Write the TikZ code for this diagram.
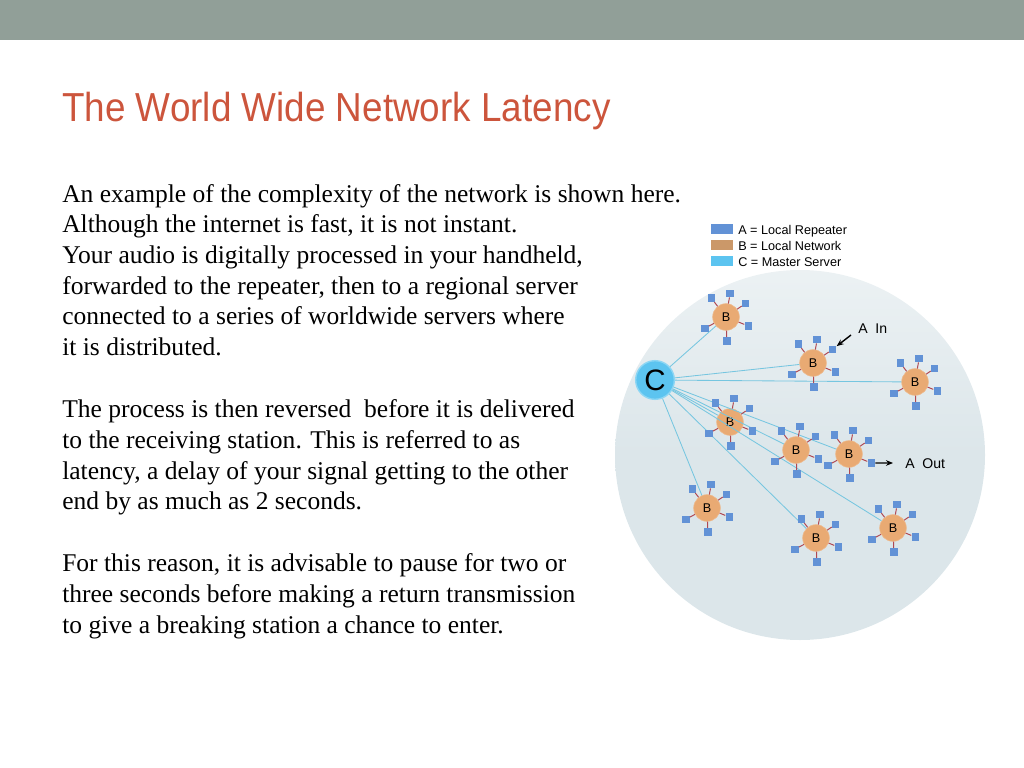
\documentclass[tikz,border=0pt]{standalone}
\usepackage{fontspec}
\setmainfont{Liberation Serif}
\newfontfamily\titlefont[FakeStretch=0.91]{Liberation Sans}
\newfontfamily\labelfont{Liberation Sans}
\usetikzlibrary{arrows.meta}
\usetikzlibrary{calc}

\definecolor{barGray}{RGB}{145,159,152}
\definecolor{titleRed}{RGB}{204,85,60}
\definecolor{discBlue}{RGB}{220,230,234}
\definecolor{repBlue}{RGB}{98,146,214}
\definecolor{netTan}{RGB}{233,170,115}
\definecolor{keyTan}{RGB}{203,152,105}
\definecolor{srvCyan}{RGB}{92,196,240}
\definecolor{linkCyan}{RGB}{118,198,224}
\definecolor{spokeRed}{RGB}{176,72,82}

\begin{document}
\begin{tikzpicture}[x=0.025cm,y=-0.025cm,
    body/.style={anchor=north west,inner sep=0pt,align=left,font=\fontsize{18.15}{21.8}\selectfont},
    key/.style={anchor=base west,inner sep=0pt,font=\labelfont\fontsize{9}{10}\selectfont},
    keybox/.style={rectangle,inner sep=0pt,minimum width=15pt,minimum height=7pt},
    server/.style={circle,fill=srvCyan,draw=srvCyan!70!white,line width=1pt,inner sep=0pt,minimum size=27.5pt,font=\labelfont\fontsize{21}{21}\selectfont},
    net/.style={circle,fill=netTan,draw=netTan!80!white,inner sep=0pt,minimum size=19pt,font=\labelfont\fontsize{9}{9}\selectfont},
    rep/.style={rectangle,fill=repBlue,inner sep=0pt,minimum size=5.3pt},
    spoke/.style={spokeRed,line width=0.7pt},
    link/.style={linkCyan,line width=0.6pt},
    pointer/.style={-{Stealth[length=5pt,width=4pt]},line width=1pt}]
    \useasboundingbox (0,0) rectangle (1024,768);
    \fill[barGray] (0,0) rectangle (1024,40);
    \node[anchor=base west,inner sep=0pt,text=titleRed,font=\titlefont\fontsize{28.8}{30}\selectfont] (title) at (62,122) {The World Wide Network Latency};
    \node[body] (p1) at (62,184) {An example of the complexity of the network is shown here.\\
      Although the internet is fast, it is not instant.\\
      Your audio is digitally processed in your handheld,\\
      forwarded to the repeater, then to a regional server\\
      connected to a series of worldwide servers where\\
      it is distributed.};
    \node[body] (p2) at (62,399.5) {The process is then reversed\ \ before it is delivered\\
      to the receiving station. This is referred to as\\
      latency, a delay of your signal getting to the other\\
      end by as much as 2 seconds.};
    \node[body] (p3) at (62,553.5) {For this reason, it is advisable to pause for two or\\
      three seconds before making a return transmission\\
      to give a breaking station a chance to enter.};

    \shade[top color=discBlue!55!white,bottom color=discBlue,middle color=discBlue] (800,455) circle (185);

    \node[keybox,fill=repBlue] (ka) at (722,229) {};
    \node[keybox,fill=keyTan] (kb) at (722,245) {};
    \node[keybox,fill=srvCyan] (kc) at (722,261) {};
    \node[key] (ta) at (738,234) {A = Local Repeater};
    \node[key] (tb) at (738,250) {B = Local Network};
    \node[key] (tc) at (738,266) {C = Master Server};

    \node[server] (c) at (655,380) {C};
    \foreach \n/\x/\y in {1/726/317,2/813/363,3/915/382,4/730/422,5/796/450,6/849/454,7/707/508,8/816/538,9/893/528}
      \node[net] (b\n) at (\x,\y) {B};
    \foreach \n in {1,...,9}
      \draw[link] (c) -- (b\n);
    \foreach \n in {1,...,9}
      \foreach \a [count=\k] in {128,80,35,-22,-88,208} {
        \node[rep] (b\n-\k) at ($(b\n.center)+(\a:0.6cm)$) {};
        \draw[spoke] (b\n) -- (b\n-\k);
      }

    \node[anchor=base west,inner sep=0pt,font=\labelfont\fontsize{10}{10}\selectfont] (ain) at (858,333) {A\ \ In};
    \node[anchor=base west,inner sep=0pt,font=\labelfont\fontsize{10}{10}\selectfont] (aout) at (905,468) {A\ \ Out};
    \coordinate (ainfrom) at (851,335);
    \coordinate (aoutto) at (893,463);
    \draw[pointer] (ainfrom) -- (b2-3);
    \draw[pointer] (b6-4) -- (aoutto);
\end{tikzpicture}
\end{document}
